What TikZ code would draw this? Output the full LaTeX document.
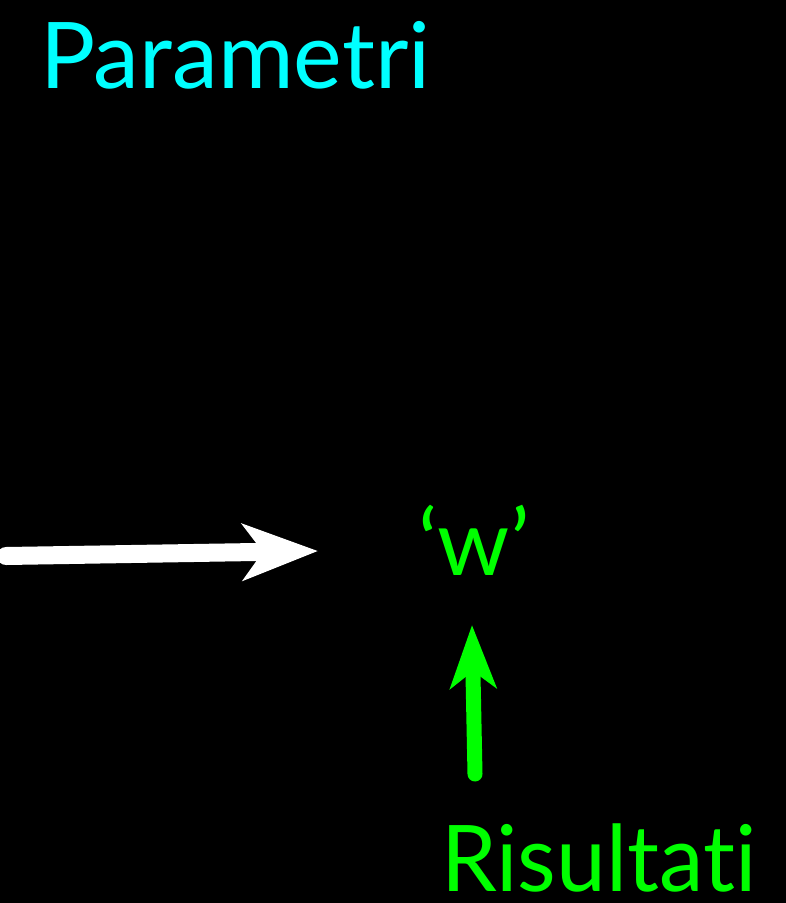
\documentclass[tikz,border=0pt]{standalone}
\usepackage{fontspec}
\setmainfont{Lato}[Ligatures={NoCommon,NoRare}]
\usetikzlibrary{arrows.meta}
\definecolor{cyanT}{HTML}{00FFFF}
\definecolor{greenT}{HTML}{00FF00}
\begin{document}
\begin{tikzpicture}[x=1pt,y=-1pt,
  lbl/.style={inner sep=0pt,outer sep=0pt,font=\fontsize{92}{92}\selectfont},
  bigarrow/.style={line cap=round,-{Stealth[length=75pt,width=56pt,inset=20pt]}}]
\fill[black] (0,0) rectangle (786,903);
\useasboundingbox (0,0) rectangle (786,903);
\node[lbl,text=cyanT,anchor=base west] (param) at (40,88) {Parametri};
\node[lbl,text=greenT,anchor=base] (w) at (474,575) {‘w’};
\node[lbl,text=greenT,anchor=base west,xscale=0.97,text depth=0pt] (ris) at (441,891) {Risultati};
\coordinate (ws) at (6,556);
\coordinate (we) at (318,551);
\coordinate (gs) at (475,774);
\coordinate (ge) at (472,625);
\draw[bigarrow,white,line width=18pt] (ws) -- (we);
\draw[greenT,line width=15pt,line cap=round,-{Stealth[length=63pt,width=46pt,inset=17pt]}] (gs) -- (ge);
\end{tikzpicture}
\end{document}
